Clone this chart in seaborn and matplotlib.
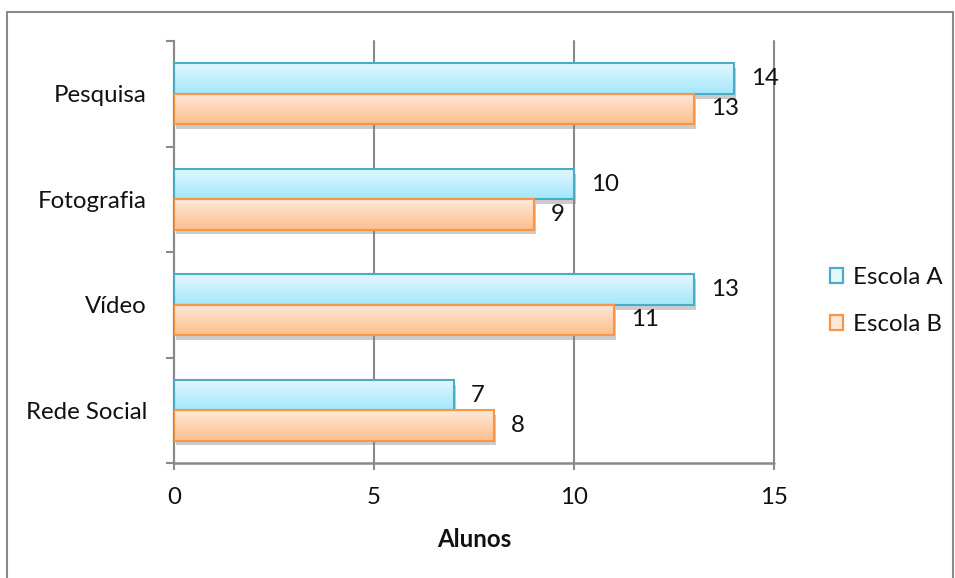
import numpy as np
import pandas as pd
import matplotlib
matplotlib.use("Agg")
import matplotlib.pyplot as plt
import seaborn as sns
from matplotlib.patches import Rectangle
from matplotlib.colors import LinearSegmentedColormap
from matplotlib import patheffects as pe
from matplotlib.ticker import FixedLocator

categories = ["Pesquisa", "Fotografia", "Vídeo", "Rede Social"]
escola_a = [14, 10, 13, 7]
escola_b = [13, 9, 11, 8]
series_names = ["Escola A", "Escola B"]
x_ticks = [0, 5, 10, 15]
x_label = "Alunos"

df = pd.DataFrame({
    "Atividade": categories * 2,
    "Alunos": escola_a + escola_b,
    "Escola": [series_names[0]] * len(categories) + [series_names[1]] * len(categories),
})

sns.set_theme(style="white")
plt.rcParams["font.family"] = ["Lato", "DejaVu Sans"]

FS = 17.3
edge_cols = {"Escola A": "#4bacc6", "Escola B": "#f79646"}
grad_cols = {"Escola A": ("#e2f8fe", "#a4e7fb"), "Escola B": ("#fee8d9", "#fbbf8c")}
grid_col = "#8a8a8a"
text_col = "#111111"

fig = plt.figure(figsize=(9.55, 5.78), dpi=100)
ax = fig.add_axes([174 / 955, 1 - 463 / 578, 600 / 955, 422 / 578])

sns.barplot(data=df, y="Atividade", x="Alunos", hue="Escola", order=categories,
            hue_order=series_names, orient="h", width=0.575, dodge=True,
            palette=[grad_cols[s][1] for s in series_names], ax=ax,
            legend=False, zorder=2)

ax.set_xlim(0, 15)
ax.set_ylim(3.5, -0.5)

# gradient fill, outline and soft shadow for each bar
for container, name in zip(ax.containers, series_names):
    cmap = LinearSegmentedColormap.from_list(name, list(grad_cols[name]))
    for bar in container:
        x0, y0 = bar.get_x(), bar.get_y()
        w, h = bar.get_width(), bar.get_height()
        bar.set_facecolor(grad_cols[name][1])
        bar.set_edgecolor("none")
        bar.set_path_effects([pe.SimplePatchShadow(offset=(1.5, -3.5), shadow_rgbFace="#7f7f7f", alpha=0.4),
                              pe.Normal()])
        grad = np.linspace(0, 1, 64).reshape(-1, 1)
        im = ax.imshow(grad, cmap=cmap, aspect="auto", extent=(x0, x0 + w, y0 + h, y0),
                       zorder=2.5, interpolation="bilinear")
        im.set_clip_path(bar)
        ax.add_patch(Rectangle((x0, y0), w, h, facecolor="none",
                               edgecolor=edge_cols[name], linewidth=1.5, zorder=3))
    ax.bar_label(container, padding=12, fontsize=FS, color=text_col, clip_on=False)

ax.set_xlim(0, 15)
ax.set_ylim(3.5, -0.5)

# axes styling
for s in ["top", "right", "bottom"]:
    ax.spines[s].set_visible(False)
ax.spines["left"].set_color(grid_col)
ax.spines["left"].set_linewidth(1.5)
ax.set_xticks(x_ticks)
ax.xaxis.grid(True, color=grid_col, linewidth=1.5, zorder=0)
for gl in ax.get_xgridlines():
    gl.set_clip_on(False)
ax.set_axisbelow(True)
ax.axhline(3.5, color=grid_col, linewidth=1.8, zorder=1, clip_on=False)
ax.tick_params(axis="x", length=5, width=1.5, color=grid_col, pad=12, labelsize=FS,
               bottom=True, labelcolor=text_col)
ax.tick_params(axis="y", which="major", length=0, pad=19.5, labelsize=FS, labelcolor=text_col)
ax.yaxis.set_minor_locator(FixedLocator([-0.5, 0.5, 1.5, 2.5, 3.5]))
ax.tick_params(axis="y", which="minor", length=6, width=1.5, color=grid_col, left=True)
ax.set_ylabel("")
ax.set_xlabel(x_label, fontsize=FS, fontweight="bold", labelpad=15, color=text_col)

# legend
handles = [Rectangle((0, 0), 1, 1, facecolor=grad_cols[s][0], edgecolor=edge_cols[s], linewidth=1.6)
           for s in series_names]
fig.legend(handles, series_names, loc="center left", bbox_to_anchor=(830 / 955, 1 - 301 / 578),
           frameon=False, fontsize=FS, handlelength=0.55, handleheight=0.55,
           handletextpad=0.4, labelspacing=1.1, borderpad=0, borderaxespad=0,
           labelcolor=text_col)

# outer frame of the chart area
fig.add_artist(Rectangle((7 / 955, -0.05), 946 / 955, 1.05 - 12 / 578, transform=fig.transFigure,
                         facecolor="none", edgecolor="#8a8a8a", linewidth=1.5))

fig.savefig("out.png", dpi=100)
